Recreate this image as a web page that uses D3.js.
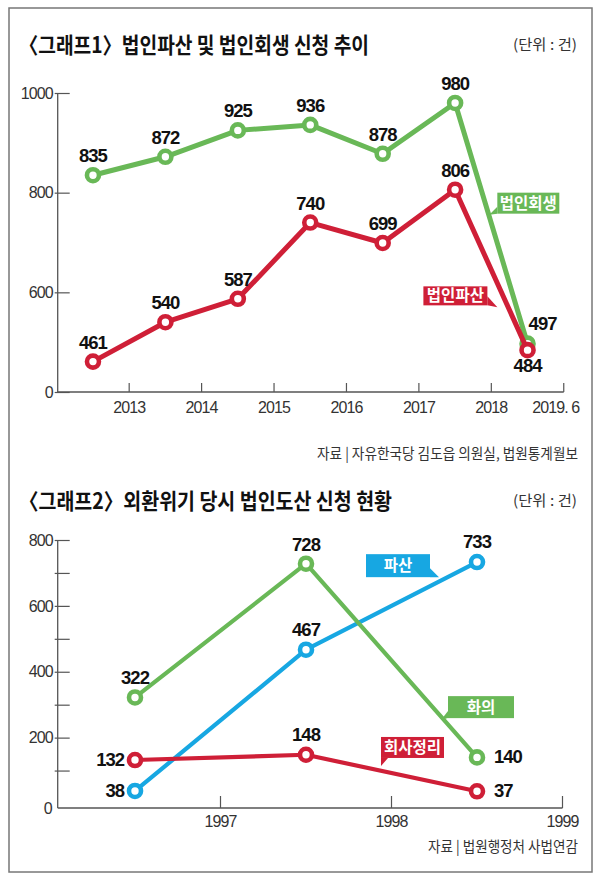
<!DOCTYPE html>
<html>
<head>
<meta charset="utf-8">
<script src="https://cdn.jsdelivr.net/npm/d3@7"></script>
<style>
  body { margin: 0; background: #fff; }
  svg { display: block; }
</style>
</head>
<body>
<div id="chart"></div>
<script>
// 그래프1 data
var years1 = ["2013", "2014", "2015", "2016", "2017", "2018", "2019. 6"];
var rehab1 = [835, 872, 925, 936, 878, 980, 497];      // 법인회생
var bankrupt1 = [461, 540, 587, 740, 699, 806, 484];   // 법인파산
var yTicks1 = [400, 600, 800, 1000];
var yTickLabels1 = ["0", "600", "800", "1000"];

// 그래프2 data
var years2 = ["1997", "1998", "1999"];
var bankrupt2 = [38, 467, 733];    // 파산
var accord2 = [322, 728, 140];     // 화의
var reorg2 = [132, 148, 37];       // 회사정리
var yTicks2 = [100, 200, 300, 400, 500, 600, 700, 800];

var width = 600, height = 881;
var green = "#69b857", red = "#cf1f37", blue = "#17a7e2";
var numFont = "'Liberation Sans', Arial, sans-serif";
var korFont = "'Noto Sans CJK KR', sans-serif";

var svg = d3.select("#chart").append("svg")
    .attr("width", width)
    .attr("height", height);

// outer frame
svg.append("rect")
    .attr("x", 9).attr("y", 8)
    .attr("width", 583).attr("height", 864)
    .attr("fill", "none")
    .attr("stroke", "#777")
    .attr("stroke-width", 1.5);

function header(y, title, titleLen, source, sourceY, sourceLen) {
    svg.append("text")
        .attr("x", 19).attr("y", y)
        .attr("font-family", korFont)
        .attr("font-weight", 700)
        .attr("font-size", 22)
        .attr("fill", "#111")
        .attr("textLength", titleLen)
        .attr("lengthAdjust", "spacingAndGlyphs")
        .text(title);
    svg.append("text")
        .attr("x", 577).attr("y", y - 3)
        .attr("text-anchor", "end")
        .attr("font-family", korFont)
        .attr("font-size", 14.5)
        .attr("fill", "#333")
        .attr("textLength", 64)
        .attr("lengthAdjust", "spacingAndGlyphs")
        .text("(단위 : 건)");
    svg.append("text")
        .attr("x", 578).attr("y", sourceY)
        .attr("text-anchor", "end")
        .attr("font-family", korFont)
        .attr("font-size", 14.5)
        .attr("fill", "#333")
        .attr("textLength", sourceLen)
        .attr("lengthAdjust", "spacingAndGlyphs")
        .text(source);
}

function tagBox(x0, y0, w, h, color, label, tail) {
    var g = svg.append("g");
    g.append("rect")
        .attr("x", x0).attr("y", y0)
        .attr("width", w).attr("height", h)
        .attr("fill", color);
    g.append("path")
        .attr("d", tail(x0, y0, w, h))
        .attr("fill", color);
    g.append("text")
        .attr("x", x0 + w / 2).attr("y", y0 + h / 2 + 5.5)
        .attr("text-anchor", "middle")
        .attr("font-family", korFont)
        .attr("font-weight", 700)
        .attr("font-size", 15.5)
        .attr("fill", "#fff")
        .text(label);
}

function drawSeries(x, y, cats, values, color, lw) {
    var bw = x.bandwidth();
    var line = d3.line()
        .x(function (d, i) { return x(cats[i]) + bw / 2; })
        .y(function (d) { return y(d); });
    svg.append("path")
        .datum(values)
        .attr("d", line)
        .attr("fill", "none")
        .attr("stroke", color)
        .attr("stroke-width", lw)
        .attr("stroke-linejoin", "round");
    svg.append("g").selectAll("circle")
        .data(values)
        .enter()
        .append("circle")
        .attr("cx", function (d, i) { return x(cats[i]) + bw / 2; })
        .attr("cy", function (d) { return y(d); })
        .attr("r", 6)
        .attr("fill", "#fff")
        .attr("stroke", color)
        .attr("stroke-width", 4.6);
}

function drawLabels(x, y, cats, values, place) {
    var bw = x.bandwidth();
    svg.append("g").selectAll("text")
        .data(values)
        .enter()
        .append("text")
        .attr("x", function (d, i) { return x(cats[i]) + bw / 2 + place(i).dx; })
        .attr("y", function (d, i) { return y(d) + place(i).dy; })
        .attr("text-anchor", function (d, i) { return place(i).anchor || "middle"; })
        .attr("font-family", numFont)
        .attr("font-weight", 700)
        .attr("font-size", 18.5)
        .attr("letter-spacing", -1)
        .attr("fill", "#111")
        .text(function (d) { return d; });
}

function yAxis(y, ticks, fmt, axisX, bottomY) {
    var g = svg.append("g")
        .attr("transform", "translate(" + axisX + ",0)")
        .call(d3.axisLeft(y).tickValues(ticks).tickFormat(fmt)
            .tickSizeInner(-12).tickSizeOuter(0).tickPadding(5));
    g.select(".domain").remove();
    g.selectAll(".tick line").attr("x1", -3).attr("stroke", "#555").attr("stroke-width", 1.2);
    g.selectAll(".tick text")
        .attr("font-family", numFont)
        .attr("font-size", 16)
        .attr("letter-spacing", -0.9)
        .attr("fill", "#333");
    svg.append("line")
        .attr("x1", axisX).attr("x2", axisX)
        .attr("y1", y(ticks[ticks.length - 1])).attr("y2", bottomY)
        .attr("stroke", "#555").attr("stroke-width", 1.3);
}

function xAxis(x, cats, axisX, axisY, tickLen, labelDy, lastDx) {
    var bw = x.bandwidth();
    var end = x(cats[cats.length - 1]) + bw;
    svg.append("line")
        .attr("x1", axisX).attr("x2", end)
        .attr("y1", axisY).attr("y2", axisY)
        .attr("stroke", "#555").attr("stroke-width", 1.3);
    var g = svg.append("g");
    g.selectAll("line")
        .data(cats)
        .enter()
        .append("line")
        .attr("x1", function (d) { return x(d) + bw; })
        .attr("x2", function (d) { return x(d) + bw; })
        .attr("y1", axisY - tickLen).attr("y2", axisY)
        .attr("stroke", "#555").attr("stroke-width", 1.2);
    g.selectAll("text")
        .data(cats)
        .enter()
        .append("text")
        .attr("x", function (d, i) { return x(d) + bw + (i === cats.length - 1 ? lastDx : 0); })
        .attr("y", axisY + labelDy)
        .attr("text-anchor", "middle")
        .attr("font-family", numFont)
        .attr("font-size", 16)
        .attr("letter-spacing", -0.9)
        .attr("fill", "#333")
        .text(function (d) { return d; });
}

// ---------------- 그래프1 ----------------
header(53, "〈그래프1〉법인파산 및 법인회생 신청 추이", 350,
    "자료 | 자유한국당 김도읍 의원실, 법원통계월보", 459, 261);

var x1 = d3.scaleBand().domain(years1).range([56.75, 563.75]);
var y1 = d3.scaleLinear().domain([400, 1000]).range([392, 93]);

yAxis(y1, yTicks1, function (d, i) { return yTickLabels1[i]; }, 57.7, 392);
xAxis(x1, years1, 57.7, 392, 9, 21, -8);

drawSeries(x1, y1, years1, rehab1, green, 5);
drawSeries(x1, y1, years1, bankrupt1, red, 5);

drawLabels(x1, y1, years1, rehab1, function (i) {
    return i === 6 ? { dx: 15, dy: -14 } : { dx: 0, dy: -13 };
});
drawLabels(x1, y1, years1, bankrupt1, function (i) {
    return i === 6 ? { dx: 0, dy: 22 } : { dx: 0, dy: -13 };
});

tagBox(x1("2019. 6") + 6, y1(800), 62, 21, green, "법인회생", function (x0, y0, w, h) {
    return "M" + x0 + "," + (y0 + h - 7) + "L" + x0 + "," + (y0 + h) + "L" + (x0 - 8) + "," + (y0 + h + 1) + "Z";
});
tagBox(x1("2018") + 4.5, y1(612), 64, 19, red, "법인파산", function (x0, y0, w, h) {
    var xr = x0 + w;
    return "M" + xr + "," + (y0 + h - 9) + "L" + (xr + 10) + "," + (y0 + h + 2) + "L" + xr + "," + (y0 + h) + "Z";
});

// ---------------- 그래프2 ----------------
header(509, "〈그래프2〉외환위기 당시 법인도산 신청 현황", 373,
    "자료 | 법원행정처 사법연감", 852, 150);

var x2 = d3.scaleBand().domain(years2).range([49.5, 562.5]);
var y2 = d3.scaleLinear().domain([0, 800]).range([803.5, 540]);
var axisY2 = 808;

yAxis(y2, yTicks2, function (d) { return d % 200 === 0 ? d : ""; }, 57.7, axisY2);
svg.append("text")
    .attr("x", 52.7).attr("y", axisY2 + 5.5)
    .attr("text-anchor", "end")
    .attr("font-family", numFont)
    .attr("font-size", 16)
    .attr("fill", "#333")
    .text("0");
xAxis(x2, years2, 57.7, axisY2, 12, 19, 0);

drawSeries(x2, y2, years2, bankrupt2, blue, 4.2);
drawSeries(x2, y2, years2, accord2, green, 4.2);
drawSeries(x2, y2, years2, reorg2, red, 4.2);

drawLabels(x2, y2, years2, bankrupt2, function (i) {
    return i === 0 ? { dx: -11, dy: 6, anchor: "end" } : { dx: 0, dy: -14 };
});
drawLabels(x2, y2, years2, accord2, function (i) {
    return i === 2 ? { dx: 17, dy: 6, anchor: "start" } : { dx: 0, dy: -13 };
});
drawLabels(x2, y2, years2, reorg2, function (i) {
    if (i === 0) return { dx: -11, dy: 6, anchor: "end" };
    if (i === 2) return { dx: 17, dy: 6, anchor: "start" };
    return { dx: 0, dy: -14 };
});

tagBox(x2("1998") + 145.5, y2(757), 64, 23, blue, "파산", function (x0, y0, w, h) {
    var xr = x0 + w;
    return "M" + xr + "," + (y0 + h - 9) + "L" + (xr + 9) + "," + (y0 + h) + "L" + xr + "," + (y0 + h) + "Z";
});
tagBox(x2("1999") + 56.5, y2(326), 66, 22, green, "화의", function (x0, y0, w, h) {
    return "M" + x0 + "," + (y0 + h - 7) + "L" + x0 + "," + (y0 + h) + "L" + (x0 - 7) + "," + (y0 + h + 2) + "Z";
});
tagBox(x2("1998") + 160.5, y2(202), 63, 21, red, "회사정리", function (x0, y0, w, h) {
    return "M" + x0 + "," + (y0 + h) + "L" + (x0 + 7) + "," + (y0 + h) + "L" + x0 + "," + (y0 + h + 8) + "Z";
});
</script>
</body>
</html>
